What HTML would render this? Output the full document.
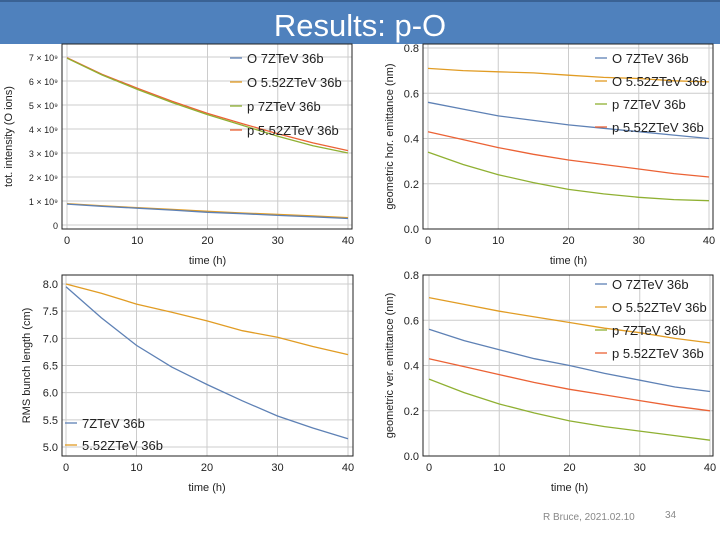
<!DOCTYPE html>
<html><head><meta charset="utf-8"><style>
body{margin:0;width:720px;height:540px;background:#fff;overflow:hidden;font-family:"Liberation Sans",sans-serif}
</style></head><body>
<svg id="s" width="720" height="540" xmlns="http://www.w3.org/2000/svg" font-family="Liberation Sans, sans-serif">
<rect x="0" y="0" width="720" height="44" fill="#4F81BD"/>
<rect x="0" y="0" width="720" height="2" fill="#3a6294"/>
<text x="360" y="36" text-anchor="middle" font-size="31" fill="#fff" font-family="Liberation Sans, sans-serif">Results: p-O</text>
<text x="543" y="520" font-size="10" fill="#888">R  Bruce, 2021.02.10</text>
<text x="665" y="518" font-size="10" fill="#888">34</text>
</svg>
<script>
const times=[0,5,10,15,20,25,30,35,40];
// top-left intensity (units 1e9)
const intO7=[0.87,0.78,0.70,0.62,0.53,0.47,0.40,0.34,0.27];
const intO552=[0.89,0.80,0.72,0.65,0.57,0.50,0.44,0.38,0.31];
const intP7=[6.95,6.25,5.65,5.1,4.6,4.15,3.7,3.3,3.0];
const intP552=[6.97,6.28,5.7,5.15,4.65,4.22,3.8,3.42,3.1];
const intTicks=["0","1 × 10⁹","2 × 10⁹","3 × 10⁹","4 × 10⁹","5 × 10⁹","6 × 10⁹","7 × 10⁹"];
// top-right horizontal emittance
const hO7=[0.56,0.53,0.50,0.48,0.46,0.445,0.43,0.415,0.40];
const hO552=[0.71,0.70,0.695,0.69,0.68,0.67,0.665,0.655,0.65];
const hP7=[0.34,0.285,0.24,0.205,0.175,0.155,0.14,0.13,0.125];
const hP552=[0.43,0.395,0.36,0.33,0.305,0.285,0.265,0.245,0.23];
// bottom-left bunch length
const bl7=[7.95,7.38,6.87,6.47,6.15,5.85,5.57,5.35,5.15];
const bl552=[8.0,7.83,7.63,7.48,7.32,7.14,7.02,6.85,6.7];
// bottom-right vertical emittance
const vO7=[0.56,0.51,0.47,0.43,0.40,0.365,0.335,0.305,0.285];
const vO552=[0.70,0.67,0.64,0.615,0.59,0.565,0.545,0.52,0.50];
const vP7=[0.34,0.28,0.23,0.19,0.155,0.13,0.11,0.09,0.07];
const vP552=[0.43,0.395,0.36,0.325,0.295,0.27,0.245,0.22,0.20];
const xTicks=[0,10,20,30,40];
const emTicks=[0,0.2,0.4,0.6,0.8];
const blTicks=[5.0,5.5,6.0,6.5,7.0,7.5,8.0];
const C={b:"#5E81B5",o:"#E19C24",g:"#8FB032",r:"#EB6235"};
const svg=document.getElementById('s');
const NS="http://www.w3.org/2000/svg";
function mk(tag,at,parent){const e=document.createElementNS(NS,tag);for(const k in at)e.setAttribute(k,at[k]);(parent||svg).appendChild(e);return e;}
function panel(p){
  const g=mk('g',{});
  
  
  const X=v=>p.x0+(v-0)/40*(p.x1-p.x0);
  const Y=v=>p.y0+(v-p.ymin)/(p.ymax-p.ymin)*(p.y1-p.y0);
  // grid
  xTicks.forEach(t=>{const l=mk('line',{x1:X(t),x2:X(t),y1:p.fb,y2:p.ft,stroke:"#ccc","stroke-width":1},g);
    
    
    const tx=mk('text',{x:X(t),y:p.fb+15,"text-anchor":"middle","font-size":11,fill:"#222"},g);tx.textContent=t;
    
    });
  p.yticks.forEach((t,i)=>{const l=mk('line',{x1:p.fl,x2:p.fr,y1:Y(t),y2:Y(t),stroke:"#ccc","stroke-width":1},g);
    
    
    const tx=mk('text',{x:p.fl-4,y:Y(t)+4,"text-anchor":"end","font-size":p.tfs||11,fill:"#222"},g);tx.textContent=p.ylab?p.ylab[i]:t.toFixed(1);
    
    });
  const fr=mk('rect',{x:p.fl,y:p.ft,width:p.fr-p.fl,height:p.fb-p.ft,fill:"none",stroke:"#222","stroke-width":1,"stroke-dasharray":"none"},g);
  
  
  p.series.forEach(s=>{const d=times.map((t,i)=>(i?'L':'M')+X(t).toFixed(1)+' '+Y(s.v[i]).toFixed(1)).join(' ');
    const pa=mk('path',{d:d,fill:"none",stroke:s.c,"stroke-width":1.3},g);
    
    });
  const xt=mk('text',{x:(p.x0+p.x1)/2,y:p.fb+35,"text-anchor":"middle","font-size":11,fill:"#222"},g);xt.textContent="time (h)";
  
  
  const cy=(p.ft+p.fb)/2;
  const yt=mk('text',{x:p.ytx,y:cy,"text-anchor":"middle","font-size":11,fill:"#222",transform:`rotate(-90 ${p.ytx} ${cy})`},g);yt.textContent=p.ytitle;
  
  
  p.legend.forEach((L,i)=>{const y=p.ly+i*p.lgap;
    const ll=mk('line',{x1:p.lx,x2:p.lx+12,y1:y,y2:y,stroke:L.c,"stroke-width":1.3},g);
    
    
    const lt=mk('text',{x:p.lx+17,y:y+5,"font-size":13,fill:"#222"},g);lt.textContent=L.t;
    
    });
}
const L4=[{t:"O 7ZTeV 36b",c:C.b},{t:"O 5.52ZTeV 36b",c:C.o},{t:"p 7ZTeV 36b",c:C.g},{t:"p 5.52ZTeV 36b",c:C.r}];
panel({name:"intensity-chart",x0:67,x1:348,ymin:0,ymax:7,y0:225,y1:57,fl:62,fr:352,ft:44,fb:229,yticks:[0,1,2,3,4,5,6,7],ylab:intTicks,tfs:9,
  series:[{v:intP552,c:C.r},{v:intP7,c:C.g},{v:intO552,c:C.o},{v:intO7,c:C.b}],ytitle:"tot. intensity (O ions)",ytx:12,legend:L4,lx:230,ly:58,lgap:24});
panel({name:"hor-emittance-chart",x0:428,x1:709,ymin:0,ymax:0.8,y0:229,y1:48,fl:423,fr:713,ft:44,fb:229,yticks:emTicks,
  series:[{v:hO552,c:C.o},{v:hO7,c:C.b},{v:hP552,c:C.r},{v:hP7,c:C.g}],ytitle:"geometric hor. emittance (nm)",ytx:393,legend:L4,lx:595,ly:58,lgap:23});
panel({name:"bunch-length-chart",x0:66,x1:348,ymin:5,ymax:8,y0:447,y1:284,fl:62,fr:353,ft:275,fb:456,yticks:blTicks,
  series:[{v:bl552,c:C.o},{v:bl7,c:C.b}],ytitle:"RMS bunch length (cm)",ytx:30,legend:[{t:"7ZTeV 36b",c:C.b},{t:"5.52ZTeV 36b",c:C.o}],lx:65,ly:423,lgap:22});
panel({name:"ver-emittance-chart",x0:429,x1:710,ymin:0,ymax:0.8,y0:456,y1:275,fl:423,fr:713,ft:275,fb:456,yticks:emTicks,
  series:[{v:vO552,c:C.o},{v:vO7,c:C.b},{v:vP552,c:C.r},{v:vP7,c:C.g}],ytitle:"geometric ver. emittance (nm)",ytx:393,legend:L4,lx:595,ly:284,lgap:23});
</script>
</body></html>
